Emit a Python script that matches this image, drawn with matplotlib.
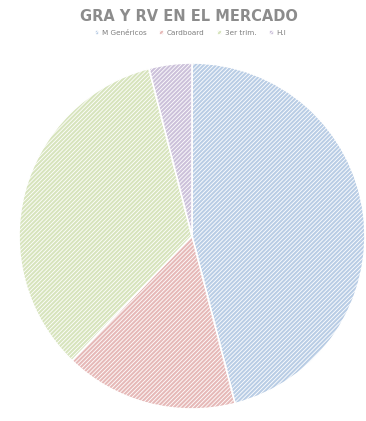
import matplotlib.pyplot as plt

# datos del gráfico
categorias = ["M Genéricos", "Cardboard", "3er trim.", "H.I"]
valores = [46, 16.2, 33.8, 4]
colores = ["#b9cde5", "#e6b9b8", "#d7e4bd", "#ccc1da"]

plt.rcParams["hatch.color"] = "#f4f4f4"
plt.rcParams["hatch.linewidth"] = 0.6

fig = plt.figure(figsize=(3.66, 4.21), dpi=100)
# ejes ajustados para que el círculo ocupe el área del original
ax = fig.add_axes([0.0519, 0.0285, 0.9454, 0.8219])

wedges, _ = ax.pie(
    valores,
    colors=colores,
    startangle=90,
    counterclock=False,
    wedgeprops={"edgecolor": "white", "linewidth": 1.2, "hatch": "////////"},
)
ax.set_xlim(-1, 1)
ax.set_ylim(-1, 1)
ax.set_aspect("equal")

fig.text(0.515, 0.96, "GRA Y RV EN EL MERCADO", ha="center", va="center",
         fontsize=10.5, fontweight="bold", color="#8c8c8c")

leg = fig.legend(wedges, categorias, loc="center", bbox_to_anchor=(0.52, 0.921),
                 ncol=4, frameon=False, fontsize=5.2, handlelength=0.6,
                 handleheight=0.6, columnspacing=1.8, handletextpad=0.4)
for t in leg.get_texts():
    t.set_color("#7f7f7f")

fig.savefig("out.png", dpi=100, facecolor="white")
